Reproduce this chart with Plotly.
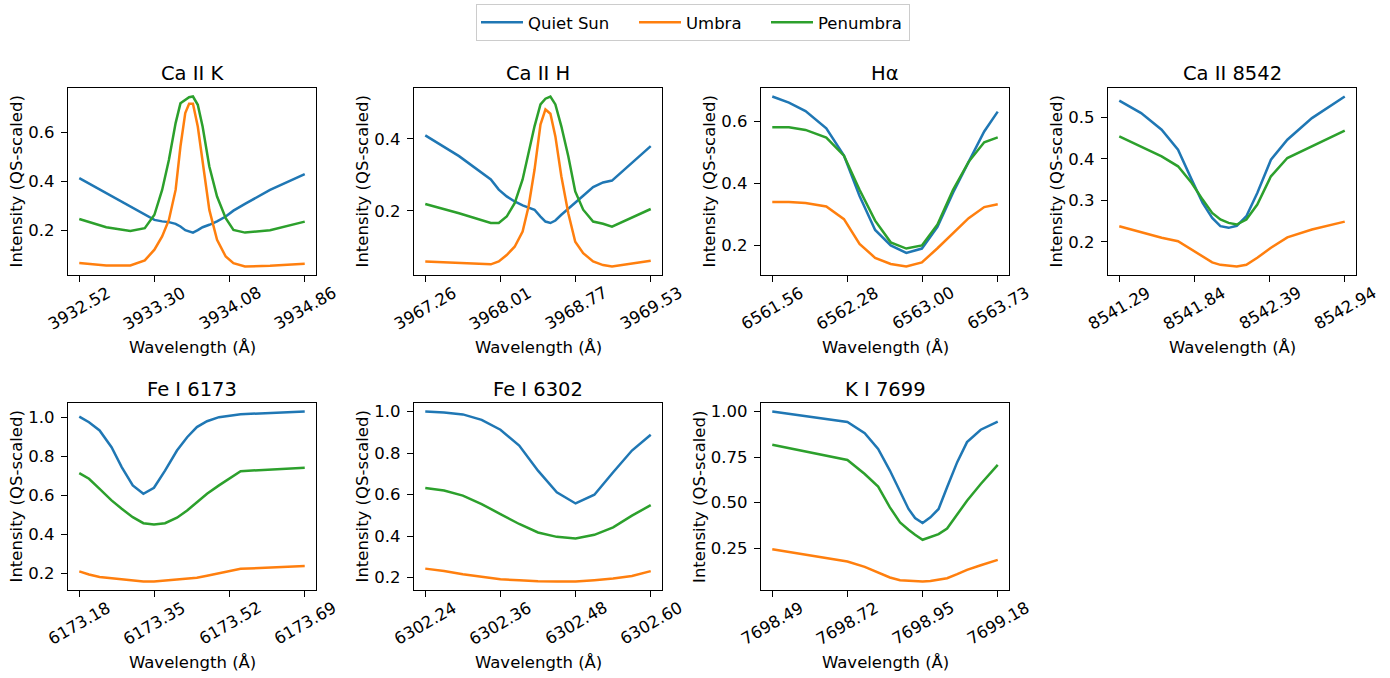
import numpy as np
import plotly.graph_objects as go

# ---------------- data ----------------
SERIES_NAMES = ["Quiet Sun", "Umbra", "Penumbra"]
SERIES_COLORS = ["#1f77b4", "#ff7f0e", "#2ca02c"]
X_TITLE = "Wavelength (Å)"
Y_TITLE = "Intensity (QS-scaled)"

CAK_TITLE = "Ca II K"
CAK_WL = [3932.52, 3932.80, 3933.05, 3933.20, 3933.30, 3933.38, 3933.45, 3933.52, 3933.57, 3933.62, 3933.66,
          3933.70, 3933.75, 3933.80, 3933.87, 3933.95, 3934.04, 3934.12, 3934.24, 3934.50, 3934.86]
CAK_QS = [0.413, 0.352, 0.297, 0.263, 0.242, 0.236, 0.233, 0.226, 0.215, 0.200, 0.195,
          0.190, 0.200, 0.212, 0.222, 0.236, 0.256, 0.280, 0.308, 0.365, 0.430]
CAK_UM = [0.065, 0.055, 0.055, 0.076, 0.120, 0.174, 0.242, 0.365, 0.543, 0.680, 0.718,
          0.718, 0.625, 0.475, 0.283, 0.160, 0.092, 0.065, 0.051, 0.054, 0.062]
CAK_PE = [0.246, 0.212, 0.197, 0.208, 0.263, 0.365, 0.488, 0.639, 0.720, 0.734, 0.745,
          0.748, 0.714, 0.625, 0.461, 0.338, 0.249, 0.201, 0.190, 0.200, 0.235]
CAK_XTICKS = ["3932.52", "3933.30", "3934.08", "3934.86"]
CAK_YTICKS = ["0.2", "0.4", "0.6"]

CAH_TITLE = "Ca II H"
CAH_WL = [3967.26, 3967.60, 3967.92, 3968.00, 3968.08, 3968.16, 3968.24, 3968.30, 3968.36, 3968.42, 3968.47,
          3968.52, 3968.57, 3968.63, 3968.70, 3968.77, 3968.85, 3968.95, 3969.05, 3969.14, 3969.53]
CAH_QS = [0.410, 0.352, 0.287, 0.259, 0.240, 0.226, 0.215, 0.210, 0.203, 0.184, 0.170,
          0.166, 0.173, 0.189, 0.205, 0.221, 0.242, 0.266, 0.279, 0.284, 0.380]
CAH_UM = [0.059, 0.054, 0.051, 0.059, 0.077, 0.100, 0.142, 0.212, 0.314, 0.440, 0.482,
          0.470, 0.407, 0.296, 0.193, 0.114, 0.082, 0.059, 0.049, 0.045, 0.061]
CAH_PE = [0.219, 0.193, 0.166, 0.166, 0.184, 0.221, 0.287, 0.361, 0.435, 0.496, 0.512,
          0.518, 0.496, 0.435, 0.352, 0.254, 0.203, 0.170, 0.164, 0.156, 0.205]
CAH_XTICKS = ["3967.26", "3968.01", "3968.77", "3969.53"]
CAH_YTICKS = ["0.2", "0.4"]

HA_TITLE = "Hα"
HA_WL = [6561.56, 6561.72, 6561.88, 6562.08, 6562.25, 6562.40, 6562.55, 6562.70, 6562.85, 6563.00,
         6563.15, 6563.30, 6563.45, 6563.60, 6563.73]
HA_QS = [0.681, 0.661, 0.634, 0.578, 0.490, 0.360, 0.250, 0.200, 0.176, 0.190, 0.260, 0.370, 0.470, 0.568, 0.632]
HA_UM = [0.340, 0.340, 0.337, 0.326, 0.285, 0.205, 0.160, 0.140, 0.132, 0.145, 0.191, 0.240, 0.288, 0.324, 0.333]
HA_PE = [0.582, 0.582, 0.573, 0.548, 0.490, 0.380, 0.280, 0.210, 0.190, 0.200, 0.268, 0.380, 0.470, 0.533, 0.549]
HA_XTICKS = ["6561.56", "6562.28", "6563.00", "6563.73"]
HA_YTICKS = ["0.2", "0.4", "0.6"]

CA8_TITLE = "Ca II 8542"
CA8_WL = [8541.29, 8541.45, 8541.60, 8541.72, 8541.82, 8541.90, 8541.97, 8542.03, 8542.09, 8542.15,
          8542.22, 8542.30, 8542.40, 8542.52, 8542.70, 8542.94]
CA8_QS = [0.540, 0.510, 0.470, 0.422, 0.350, 0.294, 0.258, 0.238, 0.234, 0.239,
          0.262, 0.318, 0.398, 0.446, 0.498, 0.550]
CA8_UM = [0.238, 0.223, 0.210, 0.202, 0.182, 0.164, 0.151, 0.145, 0.143, 0.141,
          0.145, 0.162, 0.186, 0.211, 0.230, 0.249]
CA8_PE = [0.454, 0.430, 0.406, 0.382, 0.342, 0.302, 0.270, 0.254, 0.246, 0.242,
          0.254, 0.290, 0.358, 0.402, 0.430, 0.468]
CA8_XTICKS = ["8541.29", "8541.84", "8542.39", "8542.94"]
CA8_YTICKS = ["0.2", "0.3", "0.4", "0.5"]

FE1_TITLE = "Fe I 6173"
FE1_WL = [6173.180, 6173.202, 6173.226, 6173.253, 6173.276, 6173.301, 6173.325, 6173.349,
          6173.374, 6173.401, 6173.424, 6173.446, 6173.469, 6173.496, 6173.545, 6173.690]
FE1_QS = [1.003, 0.974, 0.932, 0.846, 0.744, 0.650, 0.607, 0.638, 0.726, 0.829, 0.897, 0.949, 0.979, 1.000, 1.015, 1.029]
FE1_UM = [0.209, 0.193, 0.180, 0.173, 0.166, 0.161, 0.157, 0.157, 0.161, 0.166, 0.169, 0.176, 0.186, 0.200, 0.222, 0.236]
FE1_PE = [0.713, 0.684, 0.632, 0.573, 0.530, 0.487, 0.456, 0.450, 0.456, 0.484, 0.521, 0.564, 0.607, 0.650, 0.723, 0.740]
FE1_XTICKS = ["6173.18", "6173.35", "6173.52", "6173.69"]
FE1_YTICKS = ["0.2", "0.4", "0.6", "0.8", "1.0"]

FE2_TITLE = "Fe I 6302"
FE2_WL = [6302.24, 6302.27, 6302.30, 6302.33, 6302.36, 6302.39, 6302.42, 6302.45, 6302.48,
          6302.51, 6302.54, 6302.57, 6302.60]
FE2_QS = [1.000, 0.995, 0.986, 0.960, 0.912, 0.836, 0.715, 0.611, 0.557, 0.599, 0.707, 0.812, 0.888]
FE2_UM = [0.243, 0.232, 0.216, 0.203, 0.192, 0.187, 0.182, 0.181, 0.181, 0.187, 0.195, 0.208, 0.231]
FE2_PE = [0.632, 0.619, 0.595, 0.554, 0.506, 0.458, 0.417, 0.396, 0.388, 0.406, 0.442, 0.498, 0.549]
FE2_XTICKS = ["6302.24", "6302.36", "6302.48", "6302.60"]
FE2_YTICKS = ["0.2", "0.4", "0.6", "0.8", "1.0"]

K_TITLE = "K I 7699"
K_WL = [7698.490, 7698.720, 7698.773, 7698.814, 7698.850, 7698.881, 7698.907, 7698.927,
        7698.950, 7698.974, 7698.999, 7699.025, 7699.056, 7699.086, 7699.128, 7699.180]
K_QS = [1.000, 0.942, 0.881, 0.795, 0.676, 0.556, 0.465, 0.415, 0.388, 0.419, 0.465, 0.584, 0.722, 0.832, 0.900, 0.945]
K_UM = [0.244, 0.177, 0.147, 0.116, 0.089, 0.074, 0.070, 0.068, 0.067, 0.070, 0.076, 0.085, 0.107, 0.131, 0.156, 0.186]
K_PE = [0.817, 0.734, 0.657, 0.588, 0.474, 0.391, 0.351, 0.323, 0.296, 0.312, 0.327, 0.358, 0.437, 0.510, 0.602, 0.707]
K_XTICKS = ["7698.49", "7698.72", "7698.95", "7699.18"]
K_YTICKS = ["0.25", "0.50", "0.75", "1.00"]

PANELS = [
    (CAK_TITLE, CAK_WL, CAK_QS, CAK_UM, CAK_PE, CAK_XTICKS, CAK_YTICKS),
    (CAH_TITLE, CAH_WL, CAH_QS, CAH_UM, CAH_PE, CAH_XTICKS, CAH_YTICKS),
    (HA_TITLE, HA_WL, HA_QS, HA_UM, HA_PE, HA_XTICKS, HA_YTICKS),
    (CA8_TITLE, CA8_WL, CA8_QS, CA8_UM, CA8_PE, CA8_XTICKS, CA8_YTICKS),
    (FE1_TITLE, FE1_WL, FE1_QS, FE1_UM, FE1_PE, FE1_XTICKS, FE1_YTICKS),
    (FE2_TITLE, FE2_WL, FE2_QS, FE2_UM, FE2_PE, FE2_XTICKS, FE2_YTICKS),
    (K_TITLE, K_WL, K_QS, K_UM, K_PE, K_XTICKS, K_YTICKS),
]

# ---------------- layout geometry (px) ----------------
W, H = 1390, 678
COL_LEFT = [68, 414, 761, 1108]
ROW_TOP = [88, 403]
PW, PH = 248, 187
FONT = "DejaVu Sans"
TICK_FS = 16.5
TITLE_FS = 19.5
LEGEND_ENTRY_W = [101, 75, 86]

fig = go.Figure()
layout = dict(
    width=W, height=H, margin=dict(l=0, r=0, t=0, b=0),
    paper_bgcolor="white", plot_bgcolor="white",
    font=dict(family=FONT, size=TICK_FS, color="black"),
    showlegend=True,
    legend=dict(orientation="h", x=476 / W, xanchor="left", y=1 - 4 / H, yanchor="top",
                bordercolor="#cccccc", borderwidth=1, bgcolor="white",
                font=dict(family=FONT, size=TICK_FS, color="black"),
                itemwidth=42, tracegroupgap=0),
)
annotations = []


def px2x(px):
    return px / W


def px2y(py):
    return 1 - py / H


for i, (title, wl, qs, um, pe, xticks, yticks) in enumerate(PANELS):
    n = i + 1
    r, c = divmod(i, 4)
    left, top = COL_LEFT[c], ROW_TOP[r]
    bottom = top + PH
    xa = "x" if n == 1 else f"x{n}"
    ya = "y" if n == 1 else f"y{n}"

    for k, (ys, name, color) in enumerate(zip([qs, um, pe], SERIES_NAMES, SERIES_COLORS)):
        fig.add_trace(go.Scatter(x=wl, y=ys, mode="lines", name=name,
                                 line=dict(color=color, width=2.5),
                                 xaxis=xa, yaxis=ya, legendgroup=name,
                                 legendwidth=LEGEND_ENTRY_W[k],
                                 showlegend=(i == 0)))

    wl_arr = np.array(wl)
    xmin, xmax = wl_arr.min(), wl_arr.max()
    xs = xmax - xmin
    allv = np.concatenate([qs, um, pe])
    ymin, ymax = allv.min(), allv.max()
    ysp = ymax - ymin
    tickpos = np.linspace(xmin, xmax, len(xticks))

    axis_common = dict(showline=True, linecolor="black", linewidth=1.3, mirror=True,
                       ticks="outside", ticklen=6, tickwidth=1.3, tickcolor="black",
                       showgrid=False, zeroline=False, automargin=False)
    layout["xaxis" if n == 1 else f"xaxis{n}"] = dict(
        domain=[px2x(left), px2x(left + PW)], anchor=ya,
        range=[xmin - 0.05 * xs, xmax + 0.05 * xs],
        tickmode="array", tickvals=list(tickpos), showticklabels=False, **axis_common)
    layout["yaxis" if n == 1 else f"yaxis{n}"] = dict(
        domain=[px2y(bottom), px2y(top)], anchor=xa,
        range=[ymin - 0.05 * ysp, ymax + 0.05 * ysp],
        tickmode="array", tickvals=[float(t) for t in yticks], ticktext=yticks,
        tickfont=dict(family=FONT, size=TICK_FS, color="black"), ticklabelstandoff=3,
        **axis_common)

    # subplot title
    annotations.append(dict(text=title, xref="paper", yref="paper",
                            x=px2x(left + PW / 2), y=px2y(top - 14), xanchor="center", yanchor="middle",
                            showarrow=False, font=dict(family=FONT, size=TITLE_FS, color="black")))
    # rotated x tick labels
    for tv, tl in zip(tickpos, xticks):
        annotations.append(dict(text=tl, xref=xa, yref="paper", x=tv, y=px2y(bottom + 33),
                                xanchor="center", yanchor="middle", textangle=-30, showarrow=False,
                                font=dict(family=FONT, size=TICK_FS, color="black")))
    # x title
    annotations.append(dict(text=X_TITLE, xref="paper", yref="paper",
                            x=px2x(left + PW / 2), y=px2y(bottom + 72), xanchor="center", yanchor="middle",
                            showarrow=False, font=dict(family=FONT, size=TICK_FS, color="black")))
    # y title
    maxlab = max(yticks, key=len)
    lw = 10.5 * sum(ch.isdigit() for ch in maxlab) + 5.25 * maxlab.count(".")
    off = 24.8 + lw
    annotations.append(dict(text=Y_TITLE, xref="paper", yref="paper",
                            x=px2x(left - off), y=px2y(top + PH / 2), xanchor="center", yanchor="middle",
                            textangle=-90, showarrow=False,
                            font=dict(family=FONT, size=TICK_FS, color="black")))

layout["annotations"] = annotations
fig.update_layout(**layout)
fig.write_html("out.html")
